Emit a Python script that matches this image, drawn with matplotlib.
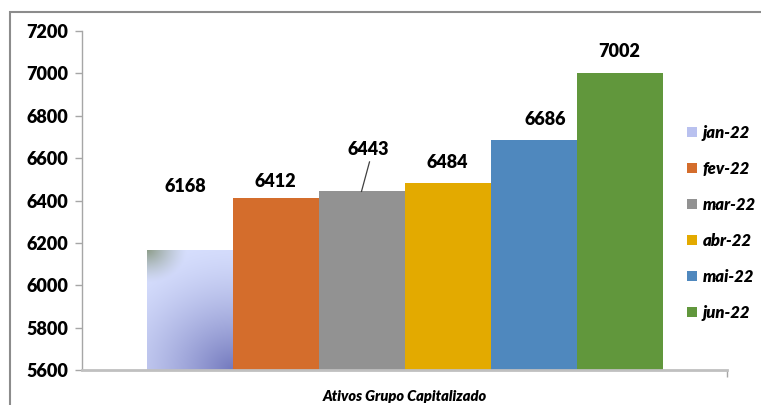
import matplotlib.pyplot as plt
import numpy as np
from matplotlib.patches import Rectangle, Patch
from matplotlib.colors import to_rgb

# Monthly values for the capitalized group assets
months = ["jan-22", "fev-22", "mar-22", "abr-22", "mai-22", "jun-22"]
values = [6168, 6412, 6443, 6484, 6686, 7002]
colors = ["#d6defc", "#d46d2c", "#929292", "#e3aa00", "#4f88be", "#61973c"]
category = "Ativos Grupo Capitalizado"

# label offsets above each bar top (in y units)
label_offsets = [296, 80, 200, 93, 94, 99]

plt.rcParams['font.family'] = ['Lato', 'DejaVu Sans']
W = "heavy"

fig = plt.figure(figsize=(7.61, 4.05), dpi=100)
ax = fig.add_axes([82 / 761, 1 - 370 / 405, 645 / 761, 339 / 405])

n = len(values)
group = 0.8
width = group / n
xpos = [-group / 2 + (i + 0.5) * width for i in range(n)]

bars = ax.bar(xpos, values, width=width, color=colors, bottom=0, zorder=2)

ax.set_xlim(-0.5, 0.5)
ax.set_ylim(5600, 7200)
ax.set_yticks(range(5600, 7201, 200))

# gradient fill for the first bar (pixel-ish grid: 86 wide, 120 tall)
b0 = bars[0]
b0.set_facecolor("none")
x0, x1 = xpos[0] - width / 2, xpos[0] + width / 2
ny, nx = 120, 86
px, py = np.meshgrid(np.arange(nx), np.arange(ny))
light = np.array(to_rgb("#d6defd"))
dark = np.array(to_rgb("#7278bd"))
green = np.array(to_rgb("#8c9c88"))
d1 = np.hypot((nx - px) * 0.95, (ny - py) * 1.05)
w1 = np.clip(1 - d1 / 135, 0, 1) ** 1.5
d2 = np.hypot(px, py * 1.2)
w2 = np.clip(1 - d2 / 40, 0, 1) ** 1.3
img = light * (1 - w1 - w2)[..., None] + dark * w1[..., None] + green * w2[..., None]
img = np.clip(img, 0, 1)
im = ax.imshow(img, extent=[x0, x1, 5600, values[0]], origin="upper",
               aspect="auto", zorder=2, interpolation="bilinear")
im.set_clip_path(b0)

# value labels
for i, (x, val) in enumerate(zip(xpos, values)):
    ty = val + label_offsets[i]
    dx = 0.0
    if i == 0:
        dx = -0.007
    elif i == 2:
        dx = 0.011
        # leader line from the label down to the bar top
        ax.plot([x, x + 0.0124], [val, val + 139], color="#404040", lw=0.9,
                zorder=3)
    elif i == 4:
        dx = 0.018
    ax.text(x + dx, ty, str(val), ha="center", va="center", fontsize=13,
            fontweight=W)

# axes styling
for side in ["top", "right"]:
    ax.spines[side].set_visible(False)
ax.spines["left"].set_color("#a6a6a6")
ax.spines["left"].set_linewidth(1)
ax.spines["bottom"].set_color("#c0c0c0")
ax.spines["bottom"].set_linewidth(2)
ax.tick_params(axis="y", length=5, width=1, color="#a6a6a6", pad=5,
               labelsize=13)
for t in ax.get_yticklabels():
    t.set_fontweight(W)
ax.set_xticks([0.5])
ax.set_xticklabels([""])
ax.tick_params(axis="x", length=5, width=1, color="#a6a6a6")
ax.set_xlabel(category, fontsize=10.5, fontweight=W, fontstyle="italic")
ax.xaxis.set_label_coords(0.5, -0.06)

# legend
handles = [Patch(facecolor=c, edgecolor="none") for c in colors]
handles[0] = Patch(facecolor="#b9c1ef", edgecolor="none")
fig.legend(handles, months, loc="center left",
           bbox_to_anchor=(672 / 761, 1 - 223 / 405), frameon=False,
           prop=dict(size=12, weight=W, style="italic"),
           handlelength=0.6, handleheight=0.6, handletextpad=0.35,
           labelspacing=1.2)

# chart area border
fig.patches.append(Rectangle((10 / 761, -0.1), 1.2, 1 - 12 / 405 + 0.1,
                             transform=fig.transFigure, fill=False,
                             edgecolor="#8c8c8c", lw=1.5))

fig.savefig("out.png", dpi=100)
